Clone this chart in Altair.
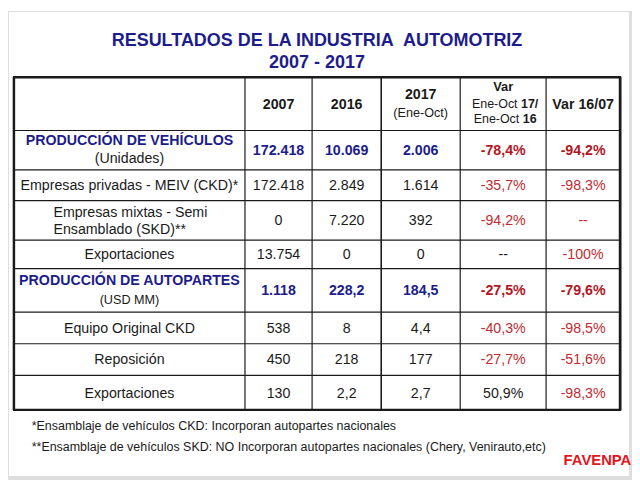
import altair as alt
import pandas as pd

# ---------------- data ----------------
title_lines = ["RESULTADOS DE LA INDUSTRIA\u00a0 AUTOMOTRIZ", "2007 - 2017"]
header_years = ["2007", "2016", "2017"]
header_2017_note = "(Ene-Oct)"
header_var_top = "Var"
header_var_lines = [("Ene-Oct ", "17/"), ("Ene-Oct ", "16")]
header_var2 = "Var 16/07"

row_titles = ["PRODUCCIÓN DE VEHÍCULOS", "Empresas privadas - MEIV (CKD)*",
              "Empresas mixtas - Semi", "Exportaciones",
              "PRODUCCIÓN DE AUTOPARTES", "Equipo Original CKD",
              "Reposición", "Exportaciones"]
row_subtitles = ["(Unidades)", "", "Ensamblado (SKD)**", "", "(USD MM)", "", "", ""]
summary_rows = [0, 4]

val_2007 = ["172.418", "172.418", "0", "13.754", "1.118", "538", "450", "130"]
val_2016 = ["10.069", "2.849", "7.220", "0", "228,2", "8", "218", "2,2"]
val_2017 = ["2.006", "1.614", "392", "0", "184,5", "4,4", "177", "2,7"]
var_17_16 = ["-78,4%", "-35,7%", "-94,2%", "--", "-27,5%", "-40,3%", "-27,7%", "50,9%"]
var_16_07 = ["-94,2%", "-98,3%", "--", "-100%", "-79,6%", "-98,5%", "-51,6%", "-98,3%"]

footnotes = ["*Ensamblaje de vehículos CKD: Incorporan autopartes nacionales",
             "**Ensamblaje de vehículos SKD: NO Incorporan autopartes nacionales (Chery, Venirauto,etc)"]
logo_text = "FAVENPA"

# ---------------- layout / style ----------------
FONT = "Liberation Sans"
NAVY = "#1c1c8c"
RED = "#c22a30"
DARK_RED = "#b3161e"
BLACK = "#1a1a1a"
LOGO_RED = "#e3161d"
FRAME = "#dedede"
FS = 14.4      # body font size
FS_S = 12.8    # small font size

col_edges = [14, 248, 316, 386, 466, 553, 628]
row_edges = [75, 129, 169, 200, 240, 269, 313, 345, 377, 412]
col_c = [(a + b) / 2 for a, b in zip(col_edges[:-1], col_edges[1:])]
row_c = [(a + b) / 2 for a, b in zip(row_edges[:-1], row_edges[1:])]

items = []


def add(x, y, text, color, size, weight="normal", align="center"):
    items.append(dict(x=x, y=y, text=text, color=color, size=size,
                      weight=weight, align=align))


# title
add(321, 43, title_lines[0], NAVY, 18.2, "bold")
add(321, 66, title_lines[1], NAVY, 18.2, "bold")

# header row
add(col_c[1], row_c[0] + 5, header_years[0], BLACK, FS, "bold")
add(col_c[2], row_c[0] + 5, header_years[1], BLACK, FS, "bold")
add(col_c[3], 97, header_years[2], BLACK, FS, "bold")
add(col_c[3], 115, header_2017_note, BLACK, FS_S)
add(col_c[4], 89, header_var_top, BLACK, 13, "bold")
fs = 12.6
reg_w = 3.946 * fs
for (reg, bold), yb, bw in zip(header_var_lines, [106, 121], [1.39 * fs, 1.112 * fs]):
    start = col_c[4] - (reg_w + bw) / 2 + 2
    add(start, yb, reg, BLACK, fs, "normal", "left")
    add(start + reg_w, yb, bold, BLACK, fs, "bold", "left")
add(col_c[5], row_c[0] + 5, header_var2, BLACK, FS, "bold")

# body rows
for i in range(len(row_titles)):
    top, bot = row_edges[i + 1], row_edges[i + 2]
    cy = (top + bot) / 2
    summary = i in summary_rows
    # label column
    if summary:
        add(col_c[0], cy - 5, row_titles[i], NAVY, FS, "bold")
        add(col_c[0], cy + 13 if i == 0 else cy + 14, row_subtitles[i], BLACK,
            FS if i == 0 else FS_S)
    elif row_subtitles[i]:
        left = col_c[0] - 77
        add(left, cy - 3, row_titles[i], BLACK, FS, "normal", "left")
        add(left, cy + 14, row_subtitles[i], BLACK, FS, "normal", "left")
    else:
        add(col_c[0], cy + 5, row_titles[i], BLACK, FS)
    # value columns
    vals = [val_2007[i], val_2016[i], val_2017[i]]
    for j, v in enumerate(vals):
        if summary:
            add(col_c[j + 1], cy + 5, v, NAVY, FS, "bold")
        else:
            add(col_c[j + 1], cy + 5, v, BLACK, FS)
    v1 = var_17_16[i]
    v2 = var_16_07[i]
    if summary:
        add(col_c[4], cy + 5, v1, DARK_RED, FS, "bold")
        add(col_c[5], cy + 5, v2, DARK_RED, FS, "bold")
    else:
        c1 = RED if (v1.startswith("-") and v1 != "--") else BLACK
        add(col_c[4], cy + 5, v1, c1, FS)
        add(col_c[5], cy + 5, v2, RED, FS)

# footnotes and logo
add(32, 432, footnotes[0], BLACK, 12.6, "normal", "left")
add(32, 454, footnotes[1], BLACK, 12.6, "normal", "left")
add(605, 468, logo_text, LOGO_RED, 15, "bold", "center")

text_df = pd.DataFrame(items)

# grid lines
lines = []
L, R, T, B = col_edges[0], col_edges[-1], row_edges[0], row_edges[-1]
for y in row_edges[1:-1]:
    lines.append(dict(x=L, x2=R, y=y, y2=y, w=1.2))
for x in col_edges[1:-1]:
    lines.append(dict(x=x, x2=x, y=T, y2=B, w=1.6 if x == 386 else 1.2))
lines += [dict(x=L - 1, x2=R + 1, y=T, y2=T, w=2.5),
          dict(x=L - 1, x2=R + 1, y=B, y2=B, w=2.5),
          dict(x=L, x2=L, y=T, y2=B, w=2.5),
          dict(x=R, x2=R, y=T, y2=B, w=2.8)]
line_df = pd.DataFrame(lines)
line_df["color"] = BLACK

frame_df = pd.DataFrame([dict(x=638.5, x2=638.5, y=8, y2=482, w=3, color=FRAME),
                         dict(x=8, x2=640, y=480.5, y2=480.5, w=3, color=FRAME)])

xs = alt.Scale(domain=[8, 640], nice=False, zero=False)
ys = alt.Scale(domain=[8, 482], nice=False, zero=False, reverse=True)


def rule_layer(df):
    return alt.Chart(df).mark_rule().encode(
        x=alt.X("x:Q", scale=xs, axis=None),
        x2="x2:Q",
        y=alt.Y("y:Q", scale=ys, axis=None),
        y2="y2:Q",
        strokeWidth=alt.StrokeWidth("w:Q", scale=None),
        color=alt.Color("color:N", scale=None),
    )


layers = [rule_layer(frame_df), rule_layer(line_df)]
for (w, a), g in text_df.groupby(["weight", "align"]):
    layers.append(
        alt.Chart(g).mark_text(fontWeight=w, align=a, baseline="alphabetic", font=FONT).encode(
            x=alt.X("x:Q", scale=xs, axis=None),
            y=alt.Y("y:Q", scale=ys, axis=None),
            text="text:N",
            color=alt.Color("color:N", scale=None),
            size=alt.Size("size:Q", scale=None),
        )
    )

chart = alt.layer(*layers).properties(
    width=632, height=474, padding=0, autosize=alt.AutoSizeParams(type="none")
).configure_view(stroke=None).configure(background="white")

chart.save("out.html", embed_options={"renderer": "svg", "actions": False})
